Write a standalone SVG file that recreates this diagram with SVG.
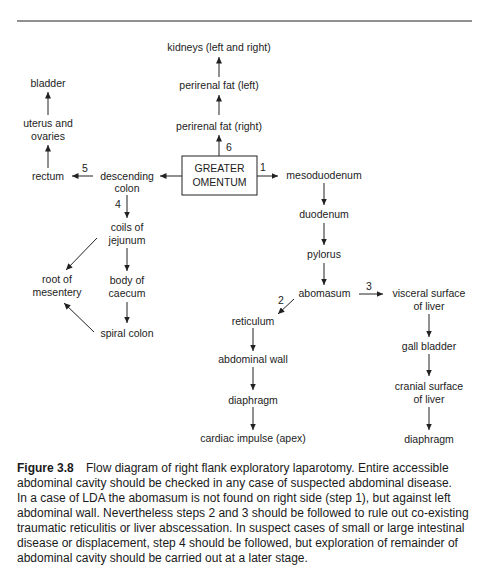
<svg xmlns="http://www.w3.org/2000/svg" width="481" height="581" viewBox="0 0 481 581">
<style>
.t{font-family:"Liberation Sans",Arial,sans-serif;font-size:10.5px;fill:#222;text-anchor:middle}
.n{font-family:"Liberation Sans",Arial,sans-serif;font-size:10.5px;fill:#222;text-anchor:middle}
.c{font-family:"Liberation Sans",Arial,sans-serif;font-size:12px;fill:#1a1a1a}
.e{stroke:#222;stroke-width:1;fill:none;marker-end:url(#ah)}
</style>
<defs>
<marker id="ah" markerUnits="userSpaceOnUse" markerWidth="7" markerHeight="6" refX="6.5" refY="3" orient="auto">
<path d="M0,0 L6.5,3 L0,6 z" fill="#222"/>
</marker>
</defs>
<rect width="481" height="581" fill="#fff"/>
<line x1="17" y1="21" x2="472" y2="21" stroke="#222" stroke-width="1"/>

<g id="connectors">
<line class="e" x1="219" y1="77" x2="219" y2="57"/>
<line class="e" x1="219" y1="115" x2="219" y2="95"/>
<line class="e" x1="219" y1="156" x2="219" y2="135"/>
<line class="e" x1="182" y1="176" x2="160" y2="176"/>
<line class="e" x1="257" y1="176" x2="278" y2="176"/>
<line class="e" x1="93" y1="176" x2="72" y2="176"/>
<line class="e" x1="48" y1="168" x2="48" y2="145"/>
<line class="e" x1="48" y1="115" x2="48" y2="92"/>
<line class="e" x1="127" y1="195" x2="127" y2="218"/>
<line class="e" x1="127" y1="248" x2="127" y2="271"/>
<line class="e" x1="127" y1="302" x2="127" y2="323"/>
<line class="e" x1="97" y1="238" x2="66" y2="270"/>
<line class="e" x1="94" y1="332" x2="64" y2="303"/>
<line class="e" x1="324" y1="183" x2="324" y2="205"/>
<line class="e" x1="324" y1="223" x2="324" y2="245"/>
<line class="e" x1="324" y1="263" x2="324" y2="285"/>
<line class="e" x1="359" y1="294" x2="383" y2="294"/>
<line class="e" x1="294" y1="299" x2="278" y2="314"/>
<line class="e" x1="253" y1="328" x2="253" y2="351"/>
<line class="e" x1="253" y1="367" x2="253" y2="390"/>
<line class="e" x1="253" y1="407" x2="253" y2="430"/>
<line class="e" x1="429" y1="314" x2="429" y2="337"/>
<line class="e" x1="429" y1="354" x2="429" y2="376"/>
<line class="e" x1="429" y1="407" x2="429" y2="430"/>
<text class="n" x="229" y="150.5">6</text>
<text class="n" x="263" y="170.5">1</text>
<text class="n" x="85" y="171.5">5</text>
<text class="n" x="118" y="207.5">4</text>
<text class="n" x="369" y="289.5">3</text>
<text class="n" x="281" y="303.5">2</text>
</g>

<g id="kidneys"><text class="t" x="219" y="50.5">kidneys (left and right)</text></g>
<g id="perirenal-left"><text class="t" x="219" y="88.5">perirenal fat (left)</text></g>
<g id="perirenal-right"><text class="t" x="219" y="129.5">perirenal fat (right)</text></g>
<g id="greater-omentum">
<rect x="182" y="156" width="75" height="39" fill="#fff" stroke="#222" stroke-width="1"/>
<text class="t" x="219.5" y="171.7">GREATER</text>
<text class="t" x="219.5" y="185.7">OMENTUM</text>
</g>
<g id="mesoduodenum"><text class="t" x="324" y="178.7">mesoduodenum</text></g>
<g id="duodenum"><text class="t" x="324" y="217.7">duodenum</text></g>
<g id="pylorus"><text class="t" x="324" y="257.7">pylorus</text></g>
<g id="abomasum"><text class="t" x="324.5" y="296.7">abomasum</text></g>
<g id="visceral-surface"><text class="t" x="429" y="296.7">visceral surface</text><text class="t" x="429" y="309.7">of liver</text></g>
<g id="gall-bladder"><text class="t" x="429" y="349.7">gall bladder</text></g>
<g id="cranial-surface"><text class="t" x="429" y="389.7">cranial surface</text><text class="t" x="429" y="402.7">of liver</text></g>
<g id="diaphragm-right"><text class="t" x="429" y="442.7">diaphragm</text></g>
<g id="reticulum"><text class="t" x="253" y="325">reticulum</text></g>
<g id="abdominal-wall"><text class="t" x="253" y="362.7">abdominal wall</text></g>
<g id="diaphragm-left"><text class="t" x="253" y="403.7">diaphragm</text></g>
<g id="cardiac-impulse"><text class="t" x="253" y="441.7">cardiac impulse (apex)</text></g>
<g id="descending-colon"><text class="t" x="127" y="179.7">descending</text><text class="t" x="127" y="192.2">colon</text></g>
<g id="rectum"><text class="t" x="48" y="179.7">rectum</text></g>
<g id="uterus-ovaries"><text class="t" x="48" y="127">uterus and</text><text class="t" x="48" y="140.2">ovaries</text></g>
<g id="bladder"><text class="t" x="48" y="86.7">bladder</text></g>
<g id="coils-jejunum"><text class="t" x="127" y="230.7">coils of</text><text class="t" x="127" y="244.2">jejunum</text></g>
<g id="body-caecum"><text class="t" x="127" y="283.7">body of</text><text class="t" x="127" y="296.7">caecum</text></g>
<g id="spiral-colon"><text class="t" x="127" y="336.7">spiral colon</text></g>
<g id="root-mesentery"><text class="t" x="57" y="282.7">root of</text><text class="t" x="57" y="295.7">mesentery</text></g>

<g id="caption">
<text class="c" x="17" y="472"><tspan font-weight="bold">Figure 3.8</tspan><tspan x="86">Flow diagram of right flank exploratory laparotomy. Entire accessible</tspan></text>
<text class="c" x="17" y="487">abdominal cavity should be checked in any case of suspected abdominal disease.</text>
<text class="c" x="17" y="502">In a case of LDA the abomasum is not found on right side (step 1), but against left</text>
<text class="c" x="17" y="517">abdominal wall. Nevertheless steps 2 and 3 should be followed to rule out co-existing</text>
<text class="c" x="17" y="532">traumatic reticulitis or liver abscessation. In suspect cases of small or large intestinal</text>
<text class="c" x="17" y="547">disease or displacement, step 4 should be followed, but exploration of remainder of</text>
<text class="c" x="17" y="562">abdominal cavity should be carried out at a later stage.</text>
</g>
</svg>
